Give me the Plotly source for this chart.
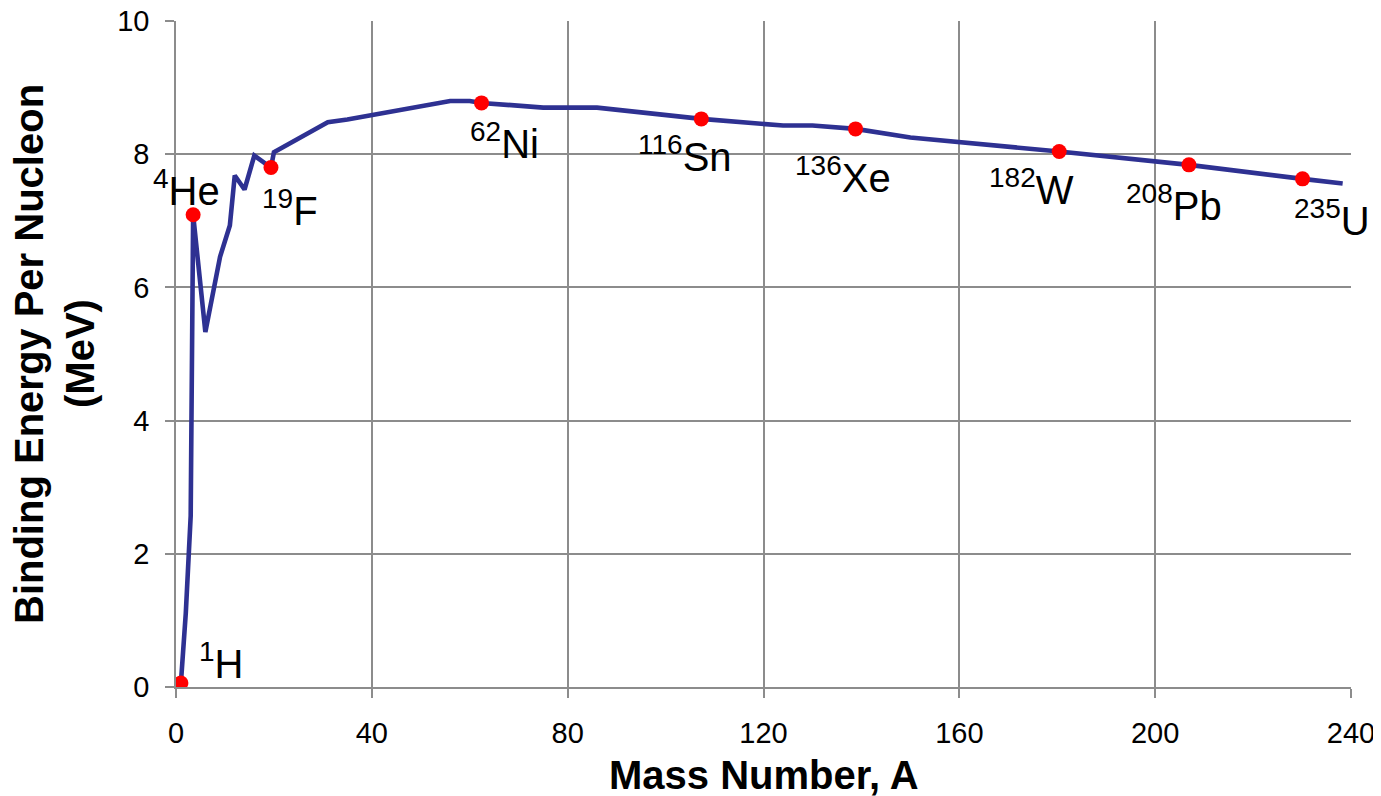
import plotly.graph_objects as go

# ---- data ----
curve_A = [1, 2, 3, 3.5, 6, 9, 11, 12, 14, 16, 19.4, 20, 31, 35, 56, 60, 62.4,
           75, 86, 107.3, 124, 130, 138.8, 150, 180.4, 206.9, 230.1, 238.3]
curve_BE = [0.06, 1.11, 2.57, 7.09, 5.33, 6.46, 6.93, 7.68, 7.47, 7.98, 7.80, 8.03,
            8.48, 8.52, 8.80, 8.80, 8.77, 8.70, 8.70, 8.53, 8.43, 8.43, 8.38, 8.25,
            8.04, 7.84, 7.63, 7.56]

marker_A = [1, 3.5, 19.4, 62.4, 107.3, 138.8, 180.4, 206.9, 230.1]
marker_BE = [0.06, 7.09, 7.80, 8.77, 8.53, 8.38, 8.04, 7.84, 7.63]
label_mass = ["1", "4", "19", "62", "116", "136", "182", "208", "235"]
label_symbol = ["H", "He", "F", "Ni", "Sn", "Xe", "W", "Pb", "U"]

x_ticks = [0, 40, 80, 120, 160, 200, 240]
y_ticks = [0, 2, 4, 6, 8, 10]

x_title = "Mass Number, A"
y_title_lines = ["Binding Energy Per Nucleon", "(MeV)"]

# ---- label placement (pixel offsets from each marker) ----
label_dx = [16, -42, -11, -14, -65, -63, -72, -65, -11]
label_dy = [-22, -27, 40, 38, 35, 46, 35, 38, 39]   # positive = downward
y_title_shift = [-147, -96]

FONT = "Arial, Liberation Sans, sans-serif"
GRID = "#8c8c8c"

fig = go.Figure()
fig.add_trace(go.Scatter(
    x=curve_A, y=curve_BE, mode="lines",
    line=dict(color="#2e3192", width=4.6),
    hoverinfo="skip", showlegend=False))
fig.add_trace(go.Scatter(
    x=marker_A, y=marker_BE, mode="markers",
    marker=dict(color="#ff0000", size=15, line=dict(width=0)),
    showlegend=False))

for A, BE, m, s, dx, dy in zip(marker_A, marker_BE, label_mass, label_symbol,
                               label_dx, label_dy):
    fig.add_annotation(
        x=A, y=BE, xref="x", yref="y",
        text=f"<sup>{m}</sup>{s}",
        showarrow=False, xanchor="left", yanchor="middle",
        xshift=dx, yshift=-dy,
        font=dict(family=FONT, size=40, color="black"))

# axis titles
fig.add_annotation(
    x=0.5, y=0, xref="paper", yref="paper",
    text=f"<b>{x_title}</b>", showarrow=False,
    xanchor="center", yanchor="middle", yshift=-88,
    font=dict(family=FONT, size=40, color="black"))
for line, sh in zip(y_title_lines, y_title_shift):
    fig.add_annotation(
        x=0, y=0.5, xref="paper", yref="paper",
        text=f"<b>{line}</b>", showarrow=False,
        textangle=-90, xanchor="center", yanchor="middle", xshift=sh,
        font=dict(family=FONT, size=40, color="black"))

axis_style = dict(
    showgrid=True, gridcolor=GRID, gridwidth=1.5,
    showline=True, linecolor=GRID, linewidth=1.5,
    ticks="outside", ticklen=9, tickwidth=1.5, tickcolor=GRID,
    zeroline=False, automargin=False, ticklabelstandoff=10,
    ticklabeloverflow="allow",
    tickfont=dict(family=FONT, size=29, color="black"))

# a hair beyond the last tick so the end ticks/gridlines are kept
fig.update_xaxes(range=[0, 240.001], tickvals=x_ticks,
                 ticktext=[str(v) for v in x_ticks], **axis_style)
fig.update_yaxes(range=[0, 10.0001], tickvals=y_ticks,
                 ticktext=[str(v) for v in y_ticks], **axis_style)

# the page body has an 8px margin, so the figure is sized to end at the window edge
fig.update_layout(
    width=1373, height=788,
    margin=dict(l=168, r=30, t=13, b=109),
    paper_bgcolor="white", plot_bgcolor="white",
    showlegend=False)

fig.write_html("out.html")
